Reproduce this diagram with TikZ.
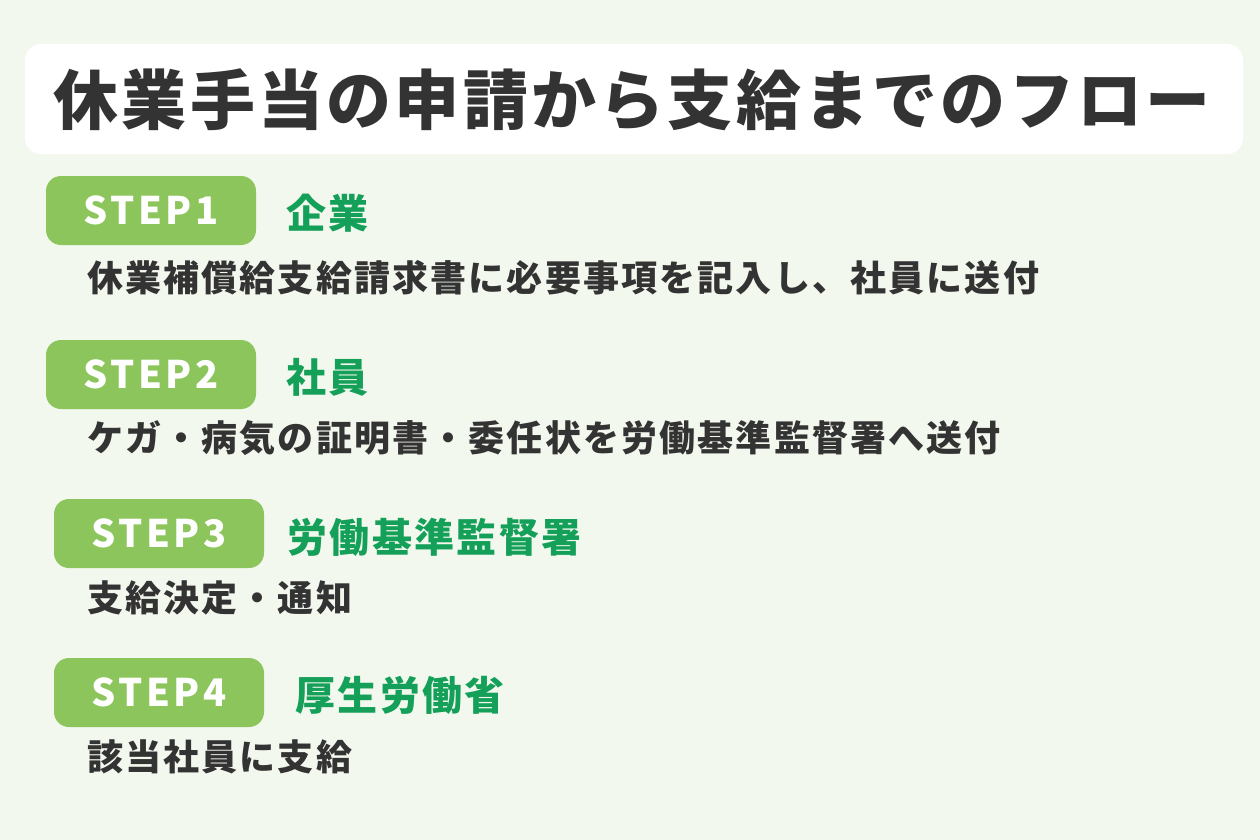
\documentclass[tikz,border=0pt]{standalone}
\usepackage{fontspec}
\setmainfont{Noto Sans CJK JP}
\definecolor{bgc}{HTML}{F3F8EE}
\definecolor{badgegreen}{HTML}{8CC55B}
\definecolor{lblgreen}{HTML}{14A058}
\definecolor{darktext}{HTML}{333333}
\tikzset{
  titlebox/.style={fill=white, rounded corners=16pt, minimum width=1218pt, minimum height=110pt, inner sep=0pt},
  titletext/.style={text=darktext, inner sep=0pt, font=\fontsize{65}{65}\selectfont\bfseries\addfontfeatures{LetterSpace=5}},
  badge/.style={fill=badgegreen, rounded corners=15pt, minimum width=210pt, minimum height=69pt, inner sep=0pt, text=white, font=\fontsize{38}{38}\selectfont\bfseries\addfontfeatures{LetterSpace=9}},
  lbl/.style={anchor=west, inner sep=0pt, text=lblgreen, font=\fontsize{40}{40}\selectfont\bfseries\addfontfeatures{LetterSpace=6}},
  desc/.style={anchor=west, inner sep=0pt, text=darktext, font=\fontsize{36}{36}\selectfont\bfseries\addfontfeatures{LetterSpace=6}}
}
\begin{document}
\begin{tikzpicture}[x=1pt,y=-1pt]
\fill[bgc] (0,0) rectangle (1260,840);
\useasboundingbox (0,0) rectangle (1260,840);
\node[titlebox] (tbox) at (634,99) {};
\node[titletext] (title) at (632,100) {休業手当の申請から支給までのフロー};
% step 1
\node[badge] (s1) at (151,210.5) {STEP1};
\node[lbl] (l1) at (286,213) {企業};
\node[desc] (d1) at (87,278) {休業補償給支給請求書に必要事項を記入し、社員に送付};
% step 2
\node[badge] (s2) at (151,374.5) {STEP2};
\node[lbl] (l2) at (286,377) {社員};
\node[desc] (d2) at (87,438) {ケガ・病気の証明書・委任状を労働基準監督署へ送付};
% step 3
\node[badge] (s3) at (159,533.5) {STEP3};
\node[lbl] (l3) at (287,537) {労働基準監督署};
\node[desc] (d3) at (87,598) {支給決定・通知};
% step 4
\node[badge] (s4) at (159,692.5) {STEP4};
\node[lbl] (l4) at (295,695) {厚生労働省};
\node[desc] (d4) at (87,757) {該当社員に支給};
\end{tikzpicture}
\end{document}
